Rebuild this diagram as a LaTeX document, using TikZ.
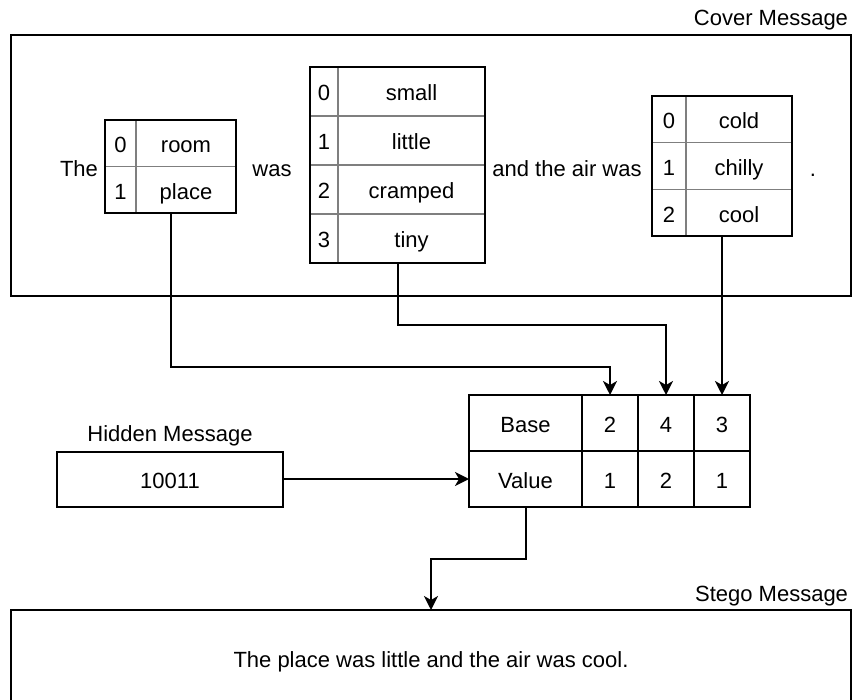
\documentclass[tikz,border=0pt]{standalone}
\usepackage{fontspec}
\setmainfont{Liberation Sans}
\usetikzlibrary{arrows.meta,calc,fit,positioning}
\definecolor{rulegray}{HTML}{7F7F7F}

\begin{document}
\begin{tikzpicture}[
  x=1pt,
  y=-1pt,
  >={Stealth[length=14pt,width=14pt,inset=4pt]},
  every node/.style={font=\fontsize{22}{26}\selectfont,inner sep=0pt,outer sep=0pt,
    text height=19pt,text depth=0pt},
  cell/.style={draw=rulegray,line width=1.5pt},
  frame/.style={draw=black,line width=2pt},
  field/.style={draw=black,line width=2pt,minimum height=56},
  link/.style={->,line width=2pt}
]
\clip (0,0) rectangle (853,700);

% Cover message and its word tables
\node[frame,minimum width=840,minimum height=261] (cover) at (431,165.5) {};
\node[anchor=east] (cover-lbl) at (848,16.5) {Cover Message};

\node (the) at (79,167) {The};
\foreach \i/\w in {0/room,1/place}{
  \node[cell,minimum width=31,minimum height=46.5] (room-n\i) at (120.5,{143.25+46.5*\i}) {\i};
  \node[cell,minimum width=100,minimum height=46.5] (room-w\i) at (186,{143.25+46.5*\i}) {\w};
}
\node[frame,fit=(room-n0)(room-w1)] (room) {};

\node (was) at (272,167) {was};
\foreach \i/\w in {0/small,1/little,2/cramped,3/tiny}{
  \node[cell,minimum width=28,minimum height=49] (small-n\i) at (324,{91.5+49*\i}) {\i};
  \node[cell,minimum width=147,minimum height=49] (small-w\i) at (411.5,{91.5+49*\i}) {\w};
}
\node[frame,fit=(small-n0)(small-w3)] (small) {};

\node (air) at (567,167) {and the air was};
\foreach \i/\w in {0/cold,1/chilly,2/cool}{
  \node[cell,minimum width=34,minimum height=46.67] (cold-n\i) at (669,{119.33+46.67*\i}) {\i};
  \node[cell,minimum width=106,minimum height=46.67] (cold-w\i) at (739,{119.33+46.67*\i}) {\w};
}
\node[frame,fit=(cold-n0)(cold-w2)] (cold) {};
\node (stop) at (813,167) {.};

% Base / value table
\node[field,minimum width=113] (base) at (525.5,423) {Base};
\node[field,minimum width=113] (value) at (525.5,479) {Value};
\foreach \c/\x/\b/\v in {a/610/2/1,b/666/4/2,c/722/3/1}{
  \node[field,minimum width=56] (base-\c) at (\x,423) {\b};
  \node[field,minimum width=56] (value-\c) at (\x,479) {\v};
}

% Hidden message
\node[frame,minimum width=226,minimum height=55] (hidden) at (170,479) {10011};
\node[above=10pt of hidden] (hidden-lbl) {Hidden Message};

% Stego message
\node[frame,minimum width=840,minimum height=95] (stego) at (431,657.5)
  {The place was little and the air was cool.};
\node[anchor=east] (stego-lbl) at (848,591.5) {Stego Message};

% Connectors
\draw[link] (room.south) -- ++(0,154) -| (base-a.north);
\draw[link] (small.south) -- ++(0,62) -| (base-b.north);
\draw[link] (cold.south) -- (base-c.north);
\draw[link] (hidden.east) -- (value.west);
\draw[link] (value.south) -- ++(0,52) -| (stego.north);

\end{tikzpicture}
\end{document}
